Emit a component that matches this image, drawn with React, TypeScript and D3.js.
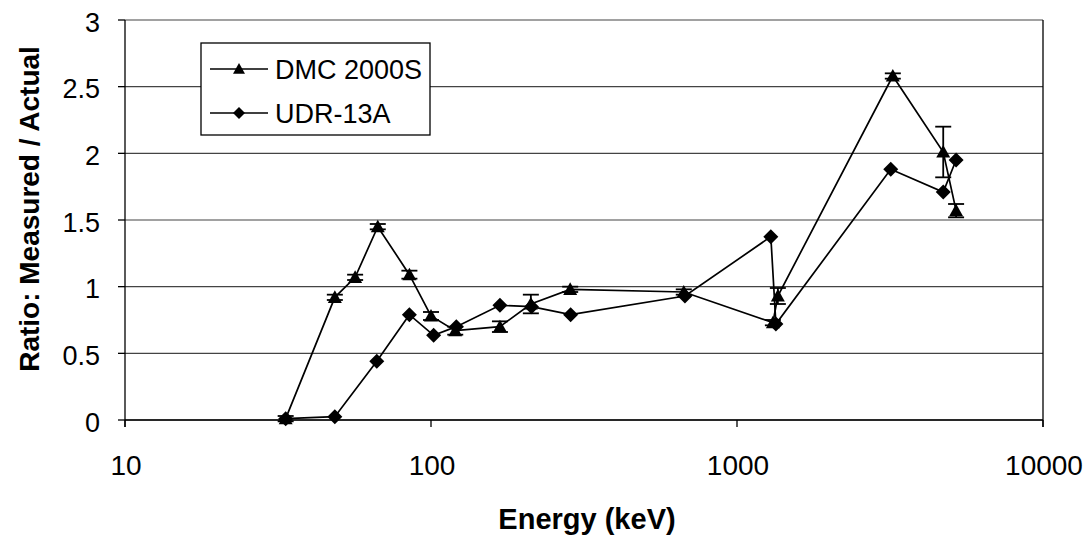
import React from "react";
import * as d3 from "d3";

const dmcEnergy = [33.5, 48.5, 56.5, 67, 85, 100, 120, 168, 212, 285, 670, 1310, 1360, 3230, 4720, 5200];
const dmcRatio = [0.01, 0.92, 1.07, 1.45, 1.09, 0.78, 0.67, 0.70, 0.87, 0.98, 0.96, 0.73, 0.93, 2.58, 2.01, 1.57];
const dmcError = [0.02, 0.02, 0.02, 0.02, 0.03, 0.03, 0.03, 0.04, 0.07, 0.02, 0.02, 0.02, 0.06, 0.02, 0.19, 0.05];

const udrEnergy = [33.5, 48.5, 66.5, 85, 102, 121, 168, 213, 286, 676, 1290, 1340, 3180, 4720, 5200];
const udrRatio = [0.01, 0.025, 0.44, 0.79, 0.635, 0.70, 0.86, 0.85, 0.79, 0.93, 1.375, 0.72, 1.88, 1.71, 1.95];

const xTicks = [10, 100, 1000, 10000];
const yTicks = [0, 0.5, 1, 1.5, 2, 2.5, 3];
const seriesNames = ["DMC 2000S", "UDR-13A"];

const W = 1089;
const H = 535;
const left = 125;
const right = 1043;
const top = 20;
const bottom = 420;
const FONT = "'Liberation Sans', Arial, sans-serif";

export default function App() {
  const x = d3.scaleLog().domain([10, 10000]).range([left, right]);
  const y = d3.scaleLinear().domain([0, 3]).range([bottom, top]);

  const dmc = dmcEnergy.map((e, i) => ({ e, v: dmcRatio[i], err: dmcError[i] }));
  const udr = udrEnergy.map((e, i) => ({ e, v: udrRatio[i] }));

  const line = d3
    .line<{ e: number; v: number }>()
    .x((d) => x(d.e))
    .y((d) => y(d.v));

  const tri = (cx: number, cy: number, s = 7) =>
    `M${cx},${cy - s} L${cx + s},${cy + s * 0.8} L${cx - s},${cy + s * 0.8} Z`;
  const dia = (cx: number, cy: number, s = 7) =>
    `M${cx},${cy - s} L${cx + s},${cy} L${cx},${cy + s} L${cx - s},${cy} Z`;

  return (
    <svg width={W} height={H} style={{ position: "absolute", left: 0, top: 0, background: "#fff" }}>
      <rect x={0} y={0} width={W} height={H} fill="#fff" />
      {yTicks.map((t) => (
        <line key={"g" + t} x1={left} x2={right} y1={y(t)} y2={y(t)} stroke="#444" strokeWidth={1.2} />
      ))}
      <line x1={left} x2={left} y1={top} y2={bottom + 7} stroke="#000" strokeWidth={1.3} />
      <line x1={right} x2={right} y1={top} y2={bottom + 7} stroke="#000" strokeWidth={1.3} />
      <line x1={left} x2={right} y1={bottom} y2={bottom} stroke="#000" strokeWidth={1.6} />
      {yTicks.map((t) => (
        <g key={"yt" + t}>
          <line x1={left - 7} x2={left} y1={y(t)} y2={y(t)} stroke="#000" strokeWidth={1.3} />
          <text x={100} y={y(t) + 11.5} textAnchor="end" fontFamily={FONT} fontSize={27}>
            {t}
          </text>
        </g>
      ))}
      {xTicks.map((t) => (
        <g key={"xt" + t}>
          <line x1={x(t)} x2={x(t)} y1={bottom} y2={bottom + 7} stroke="#000" strokeWidth={1.3} />
          <text x={x(t) + 1} y={475} textAnchor="middle" fontFamily={FONT} fontSize={28}>
            {t}
          </text>
        </g>
      ))}
      <text x={587} y={529} textAnchor="middle" fontFamily={FONT} fontSize={29} fontWeight="bold">
        Energy (keV)
      </text>
      <text
        transform={`translate(39,209) rotate(-90)`}
        textAnchor="middle"
        fontFamily={FONT}
        fontSize={28}
        fontWeight="bold"
      >
        Ratio: Measured / Actual
      </text>

      <path d={line(udr) || ""} fill="none" stroke="#000" strokeWidth={1.7} />
      <path d={line(dmc) || ""} fill="none" stroke="#000" strokeWidth={1.7} />

      {dmc.map((d, i) => (
        <g key={"eb" + i} stroke="#000" strokeWidth={1.8}>
          <line x1={x(d.e)} x2={x(d.e)} y1={y(d.v - d.err)} y2={y(d.v + d.err)} />
          <line x1={x(d.e) - 8} x2={x(d.e) + 8} y1={y(d.v + d.err)} y2={y(d.v + d.err)} />
          <line x1={x(d.e) - 8} x2={x(d.e) + 8} y1={y(d.v - d.err)} y2={y(d.v - d.err)} />
        </g>
      ))}

      {udr.map((d, i) => (
        <path key={"u" + i} d={dia(x(d.e), y(d.v), 7.5)} fill="#000" />
      ))}
      {dmc.map((d, i) => (
        <path key={"m" + i} d={tri(x(d.e), y(d.v), 7)} fill="#000" />
      ))}

      <rect x={201} y={43} width={229} height={92} fill="#fff" stroke="#000" strokeWidth={1.3} />
      <line x1={210} x2={268} y1={69} y2={69} stroke="#000" strokeWidth={1.7} />
      <path d={tri(239, 69, 6)} fill="#000" />
      <text x={275} y={78.5} fontFamily={FONT} fontSize={27}>
        {seriesNames[0]}
      </text>
      <line x1={210} x2={268} y1={113} y2={113} stroke="#000" strokeWidth={1.7} />
      <path d={dia(239, 113, 6)} fill="#000" />
      <text x={275} y={122.5} fontFamily={FONT} fontSize={27}>
        {seriesNames[1]}
      </text>
    </svg>
  );
}
